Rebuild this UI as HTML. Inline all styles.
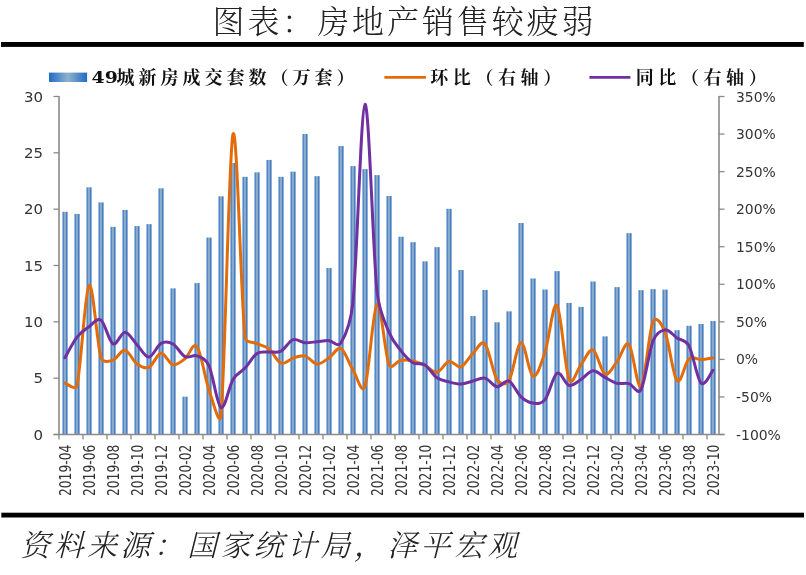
<!DOCTYPE html>
<html lang="zh-CN"><head><meta charset="utf-8"><title>图表：房地产销售较疲弱</title>
<style>html,body{margin:0;padding:0;background:#fff}body{width:806px;height:575px;position:relative;overflow:hidden}</style>
</head><body>
<svg width="806" height="575" viewBox="0 0 806 575" style="position:absolute;left:0;top:0;will-change:transform">
<defs>
<linearGradient id="bg" x1="0" y1="0" x2="1" y2="0">
<stop offset="0" stop-color="#6c9ad2"/><stop offset="0.2" stop-color="#4f86c6"/><stop offset="0.5" stop-color="#a3bcd2"/><stop offset="0.8" stop-color="#437bbf"/><stop offset="1" stop-color="#4f86c6"/>
</linearGradient>
<linearGradient id="lg" x1="0" y1="0" x2="1" y2="0">
<stop offset="0" stop-color="#1f6dc6"/><stop offset="0.5" stop-color="#90b1cc"/><stop offset="1" stop-color="#1f6dc6"/>
</linearGradient>
</defs>
<rect x="62.35" y="211.76" width="5.3" height="222.74" fill="url(#bg)"/>
<rect x="74.35" y="213.90" width="5.3" height="220.60" fill="url(#bg)"/>
<rect x="86.35" y="187.31" width="5.3" height="247.19" fill="url(#bg)"/>
<rect x="98.35" y="202.41" width="5.3" height="232.09" fill="url(#bg)"/>
<rect x="110.35" y="226.86" width="5.3" height="207.64" fill="url(#bg)"/>
<rect x="122.35" y="209.96" width="5.3" height="224.54" fill="url(#bg)"/>
<rect x="134.35" y="226.07" width="5.3" height="208.43" fill="url(#bg)"/>
<rect x="146.35" y="224.15" width="5.3" height="210.35" fill="url(#bg)"/>
<rect x="158.35" y="188.32" width="5.3" height="246.18" fill="url(#bg)"/>
<rect x="170.35" y="288.37" width="5.3" height="146.13" fill="url(#bg)"/>
<rect x="182.35" y="396.64" width="5.3" height="37.86" fill="url(#bg)"/>
<rect x="194.35" y="283.08" width="5.3" height="151.42" fill="url(#bg)"/>
<rect x="206.35" y="237.56" width="5.3" height="196.94" fill="url(#bg)"/>
<rect x="218.35" y="196.32" width="5.3" height="238.18" fill="url(#bg)"/>
<rect x="230.35" y="162.97" width="5.3" height="271.53" fill="url(#bg)"/>
<rect x="242.35" y="176.83" width="5.3" height="257.67" fill="url(#bg)"/>
<rect x="254.35" y="172.32" width="5.3" height="262.18" fill="url(#bg)"/>
<rect x="266.35" y="159.93" width="5.3" height="274.57" fill="url(#bg)"/>
<rect x="278.35" y="176.83" width="5.3" height="257.67" fill="url(#bg)"/>
<rect x="290.35" y="171.65" width="5.3" height="262.85" fill="url(#bg)"/>
<rect x="302.35" y="134.02" width="5.3" height="300.48" fill="url(#bg)"/>
<rect x="314.35" y="176.16" width="5.3" height="258.34" fill="url(#bg)"/>
<rect x="326.35" y="268.09" width="5.3" height="166.41" fill="url(#bg)"/>
<rect x="338.35" y="146.07" width="5.3" height="288.43" fill="url(#bg)"/>
<rect x="350.35" y="166.13" width="5.3" height="268.37" fill="url(#bg)"/>
<rect x="362.35" y="169.17" width="5.3" height="265.33" fill="url(#bg)"/>
<rect x="374.35" y="175.14" width="5.3" height="259.36" fill="url(#bg)"/>
<rect x="386.35" y="195.98" width="5.3" height="238.52" fill="url(#bg)"/>
<rect x="398.35" y="236.77" width="5.3" height="197.73" fill="url(#bg)"/>
<rect x="410.35" y="242.18" width="5.3" height="192.32" fill="url(#bg)"/>
<rect x="422.35" y="261.33" width="5.3" height="173.17" fill="url(#bg)"/>
<rect x="434.35" y="247.14" width="5.3" height="187.36" fill="url(#bg)"/>
<rect x="446.35" y="208.83" width="5.3" height="225.67" fill="url(#bg)"/>
<rect x="458.35" y="270.01" width="5.3" height="164.49" fill="url(#bg)"/>
<rect x="470.35" y="316.09" width="5.3" height="118.41" fill="url(#bg)"/>
<rect x="482.35" y="289.95" width="5.3" height="144.55" fill="url(#bg)"/>
<rect x="494.35" y="322.28" width="5.3" height="112.22" fill="url(#bg)"/>
<rect x="506.35" y="311.36" width="5.3" height="123.14" fill="url(#bg)"/>
<rect x="518.35" y="223.02" width="5.3" height="211.48" fill="url(#bg)"/>
<rect x="530.35" y="278.46" width="5.3" height="156.04" fill="url(#bg)"/>
<rect x="542.35" y="289.50" width="5.3" height="145.00" fill="url(#bg)"/>
<rect x="554.35" y="271.13" width="5.3" height="163.37" fill="url(#bg)"/>
<rect x="566.35" y="302.91" width="5.3" height="131.59" fill="url(#bg)"/>
<rect x="578.35" y="306.85" width="5.3" height="127.65" fill="url(#bg)"/>
<rect x="590.35" y="281.50" width="5.3" height="153.00" fill="url(#bg)"/>
<rect x="602.35" y="336.37" width="5.3" height="98.13" fill="url(#bg)"/>
<rect x="614.35" y="287.13" width="5.3" height="147.37" fill="url(#bg)"/>
<rect x="626.35" y="233.16" width="5.3" height="201.34" fill="url(#bg)"/>
<rect x="638.35" y="290.17" width="5.3" height="144.33" fill="url(#bg)"/>
<rect x="650.35" y="289.16" width="5.3" height="145.34" fill="url(#bg)"/>
<rect x="662.35" y="289.61" width="5.3" height="144.89" fill="url(#bg)"/>
<rect x="674.35" y="330.17" width="5.3" height="104.33" fill="url(#bg)"/>
<rect x="686.35" y="325.78" width="5.3" height="108.72" fill="url(#bg)"/>
<rect x="698.35" y="323.97" width="5.3" height="110.53" fill="url(#bg)"/>
<rect x="710.35" y="321.04" width="5.3" height="113.46" fill="url(#bg)"/>
<g stroke="#8a8a8a" stroke-width="1.6" fill="none">
<path d="M59.0,95.9 V434.5"/>
<path d="M719.0,95.9 V434.5"/>
</g>
<g stroke="#8a8a8a" stroke-width="1.3" fill="none">
<path d="M53.5,434.5 H724.5"/>
<path d="M53.5,434.50 H59.0"/>
<path d="M53.5,378.17 H59.0"/>
<path d="M53.5,321.83 H59.0"/>
<path d="M53.5,265.50 H59.0"/>
<path d="M53.5,209.17 H59.0"/>
<path d="M53.5,152.83 H59.0"/>
<path d="M53.5,96.50 H59.0"/>
<path d="M719.0,434.50 H724.5"/>
<path d="M719.0,396.94 H724.5"/>
<path d="M719.0,359.39 H724.5"/>
<path d="M719.0,321.83 H724.5"/>
<path d="M719.0,284.28 H724.5"/>
<path d="M719.0,246.72 H724.5"/>
<path d="M719.0,209.17 H724.5"/>
<path d="M719.0,171.61 H724.5"/>
<path d="M719.0,134.06 H724.5"/>
<path d="M719.0,96.50 H724.5"/>
<path d="M59.00,434.5 V439.5"/>
<path d="M83.00,434.5 V439.5"/>
<path d="M107.00,434.5 V439.5"/>
<path d="M131.00,434.5 V439.5"/>
<path d="M155.00,434.5 V439.5"/>
<path d="M179.00,434.5 V439.5"/>
<path d="M203.00,434.5 V439.5"/>
<path d="M227.00,434.5 V439.5"/>
<path d="M251.00,434.5 V439.5"/>
<path d="M275.00,434.5 V439.5"/>
<path d="M299.00,434.5 V439.5"/>
<path d="M323.00,434.5 V439.5"/>
<path d="M347.00,434.5 V439.5"/>
<path d="M371.00,434.5 V439.5"/>
<path d="M395.00,434.5 V439.5"/>
<path d="M419.00,434.5 V439.5"/>
<path d="M443.00,434.5 V439.5"/>
<path d="M467.00,434.5 V439.5"/>
<path d="M491.00,434.5 V439.5"/>
<path d="M515.00,434.5 V439.5"/>
<path d="M539.00,434.5 V439.5"/>
<path d="M563.00,434.5 V439.5"/>
<path d="M587.00,434.5 V439.5"/>
<path d="M611.00,434.5 V439.5"/>
<path d="M635.00,434.5 V439.5"/>
<path d="M659.00,434.5 V439.5"/>
<path d="M683.00,434.5 V439.5"/>
<path d="M707.00,434.5 V439.5"/>
</g>
<path d="M65.00,383.20C67.00,383.55 75.55,391.22 77.00,385.30C81.00,369.00 85.00,290.02 89.00,285.40C93.00,280.79 97.00,345.14 101.00,357.59C102.88,363.42 109.00,361.32 113.00,360.11C117.00,358.90 121.00,349.69 125.00,350.34C129.00,350.98 133.00,361.15 137.00,363.98C141.00,366.80 145.00,369.08 149.00,367.30C153.00,365.52 157.00,353.70 161.00,353.28C165.00,352.86 169.00,363.87 173.00,364.78C177.00,365.68 181.00,361.73 185.00,358.70C189.00,355.67 193.00,341.39 197.00,346.60C201.00,351.80 205.00,378.51 209.00,389.91C213.00,401.32 219.70,428.90 221.00,415.04C225.00,372.40 229.00,147.09 233.00,134.06C237.00,121.02 241.00,301.88 245.00,336.81C245.79,343.68 253.00,341.65 257.00,343.66C261.00,345.67 265.00,345.61 269.00,348.87C273.00,352.13 277.00,361.69 281.00,363.22C285.00,364.76 289.00,359.31 293.00,358.08C297.00,356.84 301.00,354.85 305.00,355.84C309.00,356.83 313.00,363.67 317.00,364.01C321.00,364.35 325.00,360.44 329.00,357.88C333.00,355.32 337.00,346.63 341.00,348.64C345.00,350.64 349.00,363.67 353.00,369.92C357.00,376.17 361.54,395.58 365.00,386.12C369.00,375.18 373.00,307.90 377.00,304.31C381.00,300.73 385.00,355.29 389.00,364.61C391.52,370.48 397.00,360.83 401.00,360.24C405.00,359.65 409.00,360.22 413.00,361.08C417.00,361.94 421.00,363.57 425.00,365.43C429.00,367.28 433.00,372.90 437.00,372.23C441.00,371.57 445.00,362.34 449.00,361.44C453.00,360.55 457.00,368.24 461.00,366.87C465.00,365.50 469.00,357.04 473.00,353.23C477.00,349.43 481.00,339.61 485.00,344.03C489.00,348.45 493.00,373.68 497.00,379.75C500.31,384.77 505.73,385.47 509.00,380.43C513.00,374.27 517.00,343.52 521.00,342.81C525.00,342.10 529.00,374.65 533.00,376.19C537.00,377.74 541.00,363.85 545.00,352.07C549.00,340.29 553.00,301.01 557.00,305.51C561.00,310.01 565.00,369.21 569.00,379.08C572.52,387.75 577.00,369.57 581.00,364.70C585.00,359.84 589.00,348.33 593.00,349.88C597.00,351.42 601.00,372.04 605.00,374.00C609.00,375.96 613.00,366.56 617.00,361.64C621.00,356.72 625.00,340.36 629.00,344.47C633.00,348.59 637.00,390.12 641.00,386.32C645.00,382.53 649.00,330.78 653.00,321.70C656.17,314.50 662.03,324.60 665.00,331.88C669.00,341.71 673.00,376.16 677.00,380.66C681.00,385.15 685.00,362.37 689.00,358.86C693.00,355.36 697.00,359.78 701.00,359.62C705.00,359.46 711.00,358.18 713.00,357.89" fill="none" stroke="#E36C0A" stroke-width="3" stroke-linecap="round" stroke-linejoin="round"/>
<path d="M65.00,357.59C67.00,354.18 73.00,342.30 77.00,337.16C81.00,332.01 85.00,329.56 89.00,326.72C93.00,323.87 97.00,317.25 101.00,320.11C105.00,322.96 109.00,341.83 113.00,343.84C117.00,345.86 121.00,332.06 125.00,332.20C129.00,332.34 133.00,340.52 137.00,344.67C141.00,348.81 145.00,357.27 149.00,357.06C153.00,356.85 157.00,345.57 161.00,343.39C165.00,341.21 169.00,341.79 173.00,343.99C177.00,346.19 181.00,354.63 185.00,356.61C189.00,358.59 193.00,354.33 197.00,355.86C201.00,357.39 205.72,358.72 209.00,365.77C213.00,374.37 217.00,405.18 221.00,407.46C225.00,409.74 229.00,386.01 233.00,379.44C237.00,372.88 241.00,372.43 245.00,368.09C249.00,363.75 253.00,356.09 257.00,353.40C261.00,350.72 265.00,352.38 269.00,351.99C273.00,351.61 277.00,353.17 281.00,351.11C285.00,349.06 289.00,341.07 293.00,339.66C297.00,338.25 301.00,342.33 305.00,342.66C309.00,342.99 313.00,341.98 317.00,341.65C321.00,341.31 325.00,340.45 329.00,340.64C333.00,340.84 337.80,348.01 341.00,342.82C345.00,336.33 350.86,323.01 353.00,301.71C357.00,261.96 361.00,106.04 365.00,104.32C369.00,102.61 373.00,253.46 377.00,291.43C379.22,312.54 385.00,322.25 389.00,332.15C393.00,342.05 397.00,345.72 401.00,350.83C405.00,355.93 409.00,360.40 413.00,362.75C417.00,365.11 421.00,362.46 425.00,364.97C429.00,367.49 433.00,375.03 437.00,377.85C441.00,380.67 445.00,380.86 449.00,381.89C453.00,382.92 457.00,384.18 461.00,384.02C465.00,383.87 469.00,381.95 473.00,380.96C477.00,379.97 481.00,377.14 485.00,378.09C489.00,379.04 493.00,386.18 497.00,386.68C501.00,387.17 505.00,379.36 509.00,381.05C513.00,382.75 517.00,393.18 521.00,396.86C525.00,400.53 529.00,402.63 533.00,403.09C537.00,403.56 541.09,404.50 545.00,399.64C549.00,394.67 553.00,375.64 557.00,373.26C561.00,370.88 565.00,384.33 569.00,385.36C573.00,386.39 577.00,381.86 581.00,379.42C585.00,376.97 589.00,371.03 593.00,370.70C597.00,370.36 601.00,375.32 605.00,377.42C609.00,379.53 613.00,382.30 617.00,383.33C621.00,384.35 625.00,382.52 629.00,383.58C633.00,384.64 637.69,395.56 641.00,389.69C645.00,382.60 649.00,350.99 653.00,341.02C656.05,333.42 661.00,330.40 665.00,329.88C669.00,329.36 673.00,335.23 677.00,337.90C681.00,340.56 685.62,339.49 689.00,345.85C693.00,353.37 697.00,378.97 701.00,383.04C705.00,387.11 711.00,372.41 713.00,370.28" fill="none" stroke="#7030A0" stroke-width="3" stroke-linecap="round" stroke-linejoin="round"/>
<g font-family="'DejaVu Sans', sans-serif" font-size="14.0" fill="#333333">
<text transform="translate(43,439.50) scale(1.07,1)" text-anchor="end">0</text>
<text transform="translate(43,383.17) scale(1.07,1)" text-anchor="end">5</text>
<text transform="translate(43,326.83) scale(1.07,1)" text-anchor="end">10</text>
<text transform="translate(43,270.50) scale(1.07,1)" text-anchor="end">15</text>
<text transform="translate(43,214.17) scale(1.07,1)" text-anchor="end">20</text>
<text transform="translate(43,157.83) scale(1.07,1)" text-anchor="end">25</text>
<text transform="translate(43,101.50) scale(1.07,1)" text-anchor="end">30</text>
<text transform="translate(736,439.50) scale(0.995,1)">-100%</text>
<text transform="translate(736,401.94) scale(0.995,1)">-50%</text>
<text transform="translate(736,364.39) scale(0.995,1)">0%</text>
<text transform="translate(736,326.83) scale(0.995,1)">50%</text>
<text transform="translate(736,289.28) scale(0.995,1)">100%</text>
<text transform="translate(736,251.72) scale(0.995,1)">150%</text>
<text transform="translate(736,214.17) scale(0.995,1)">200%</text>
<text transform="translate(736,176.61) scale(0.995,1)">250%</text>
<text transform="translate(736,139.06) scale(0.995,1)">300%</text>
<text transform="translate(736,101.50) scale(0.995,1)">350%</text>
<text transform="translate(70.60,444.7) rotate(-90) scale(0.879,1.07)" text-anchor="end">2019-04</text>
<text transform="translate(94.60,444.7) rotate(-90) scale(0.879,1.07)" text-anchor="end">2019-06</text>
<text transform="translate(118.60,444.7) rotate(-90) scale(0.879,1.07)" text-anchor="end">2019-08</text>
<text transform="translate(142.60,444.7) rotate(-90) scale(0.879,1.07)" text-anchor="end">2019-10</text>
<text transform="translate(166.60,444.7) rotate(-90) scale(0.879,1.07)" text-anchor="end">2019-12</text>
<text transform="translate(190.60,444.7) rotate(-90) scale(0.879,1.07)" text-anchor="end">2020-02</text>
<text transform="translate(214.60,444.7) rotate(-90) scale(0.879,1.07)" text-anchor="end">2020-04</text>
<text transform="translate(238.60,444.7) rotate(-90) scale(0.879,1.07)" text-anchor="end">2020-06</text>
<text transform="translate(262.60,444.7) rotate(-90) scale(0.879,1.07)" text-anchor="end">2020-08</text>
<text transform="translate(286.60,444.7) rotate(-90) scale(0.879,1.07)" text-anchor="end">2020-10</text>
<text transform="translate(310.60,444.7) rotate(-90) scale(0.879,1.07)" text-anchor="end">2020-12</text>
<text transform="translate(334.60,444.7) rotate(-90) scale(0.879,1.07)" text-anchor="end">2021-02</text>
<text transform="translate(358.60,444.7) rotate(-90) scale(0.879,1.07)" text-anchor="end">2021-04</text>
<text transform="translate(382.60,444.7) rotate(-90) scale(0.879,1.07)" text-anchor="end">2021-06</text>
<text transform="translate(406.60,444.7) rotate(-90) scale(0.879,1.07)" text-anchor="end">2021-08</text>
<text transform="translate(430.60,444.7) rotate(-90) scale(0.879,1.07)" text-anchor="end">2021-10</text>
<text transform="translate(454.60,444.7) rotate(-90) scale(0.879,1.07)" text-anchor="end">2021-12</text>
<text transform="translate(478.60,444.7) rotate(-90) scale(0.879,1.07)" text-anchor="end">2022-02</text>
<text transform="translate(502.60,444.7) rotate(-90) scale(0.879,1.07)" text-anchor="end">2022-04</text>
<text transform="translate(526.60,444.7) rotate(-90) scale(0.879,1.07)" text-anchor="end">2022-06</text>
<text transform="translate(550.60,444.7) rotate(-90) scale(0.879,1.07)" text-anchor="end">2022-08</text>
<text transform="translate(574.60,444.7) rotate(-90) scale(0.879,1.07)" text-anchor="end">2022-10</text>
<text transform="translate(598.60,444.7) rotate(-90) scale(0.879,1.07)" text-anchor="end">2022-12</text>
<text transform="translate(622.60,444.7) rotate(-90) scale(0.879,1.07)" text-anchor="end">2023-02</text>
<text transform="translate(646.60,444.7) rotate(-90) scale(0.879,1.07)" text-anchor="end">2023-04</text>
<text transform="translate(670.60,444.7) rotate(-90) scale(0.879,1.07)" text-anchor="end">2023-06</text>
<text transform="translate(694.60,444.7) rotate(-90) scale(0.879,1.07)" text-anchor="end">2023-08</text>
<text transform="translate(718.60,444.7) rotate(-90) scale(0.879,1.07)" text-anchor="end">2023-10</text>
</g>
<rect x="49" y="72.6" width="38.1" height="9.4" fill="url(#lg)"/>
<path d="M384.4,77.4 H425.9" stroke="#E36C0A" stroke-width="2.7"/>
<path d="M589.4,77.4 H630.4" stroke="#7030A0" stroke-width="2.7"/>
<g font-weight="bold" fill="#111">
<text transform="translate(91.5,83.3) scale(1.08,1)" font-family="'DejaVu Serif', serif" font-size="17.5">49</text>
<g font-family="'Liberation Serif', 'Noto Serif CJK SC', serif" font-size="18">
<text x="116.5" y="83.5" letter-spacing="4">城新房成交套数（万套）</text>
<text x="430.2" y="83.5" letter-spacing="4.6">环比（右轴）</text>
<text x="635.7" y="83.5" letter-spacing="4.6">同比（右轴）</text>
</g></g>
<rect x="1" y="42" width="802.8" height="4.9" fill="#000"/>
<rect x="1.3" y="512.7" width="802.7" height="4.8" fill="#000"/>
<text x="403.0" y="33" text-anchor="middle" font-family="'Liberation Serif', 'Noto Serif CJK SC', serif" font-weight="300" font-size="32" fill="#222" textLength="381" lengthAdjust="spacing">图表：房地产销售较疲弱</text>
<text x="20.3" y="555.5" font-family="'Liberation Serif', 'Noto Serif CJK SC', serif" font-weight="300" font-style="italic" font-size="30" fill="#222" textLength="497" lengthAdjust="spacing">资料来源：国家统计局，泽平宏观</text>
</svg>
</body></html>
